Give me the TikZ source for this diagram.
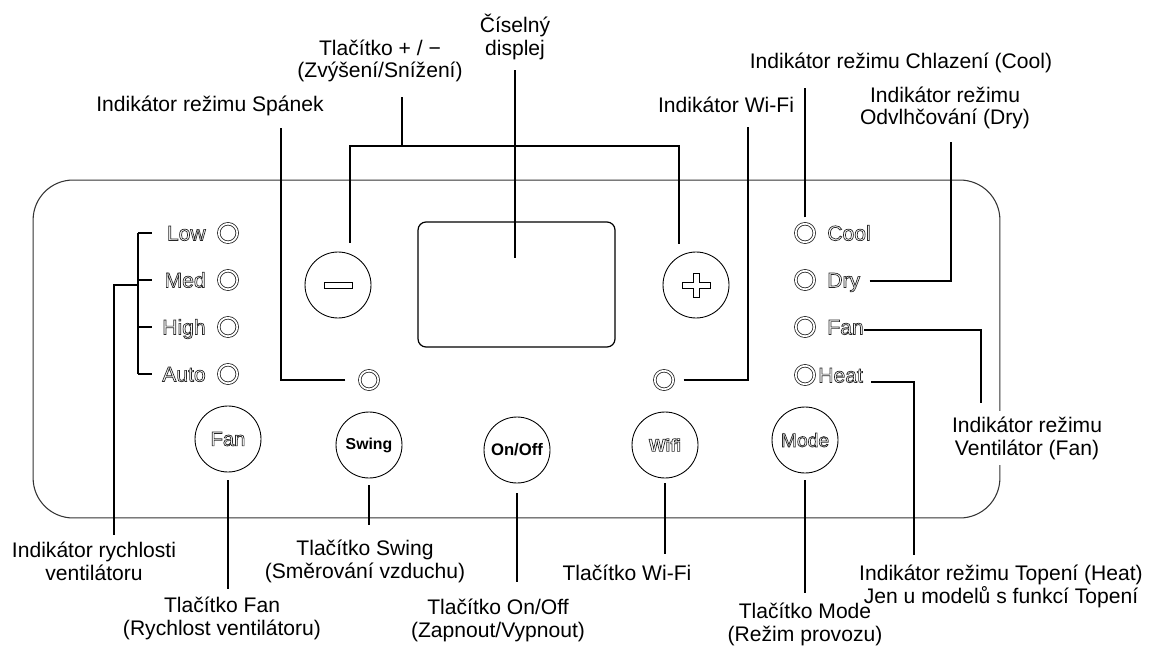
\documentclass[tikz,border=0pt]{standalone}
\usepackage{fontspec}
\setmainfont{Liberation Sans}
\usetikzlibrary{positioning,calc}

\newcommand\hollow[1]{\special{pdf:literal direct 1 Tr 0.4 w}#1\special{pdf:literal direct 0 Tr}}
\newcommand\lblfont{\fontsize{12}{13}\selectfont}

\begin{document}
\begin{tikzpicture}[
    x=0.02cm, y=-0.02cm,
    lbl/.style={align=center, inner sep=1pt, font=\lblfont},
    lead/.style={draw=black, line width=0.8pt},
    panelbox/.style={rectangle, draw=black!80, line width=0.6pt, rounded corners=0.8cm, minimum width=19.34cm, minimum height=6.76cm},
    dispbox/.style={rectangle, draw=black, line width=0.7pt, rounded corners=0.16cm, minimum width=3.94cm, minimum height=2.5cm},
    btn/.style={circle, draw=black, line width=0.5pt, minimum size=1.32cm, inner sep=0pt},
    led/.style={circle, draw=black!85, line width=0.45pt, double, double distance=1pt, minimum size=0.37cm, inner sep=0pt},
    keytxt/.style={inner sep=0pt, text=black!85, font=\fontsize{12}{12}\selectfont}
]
    \useasboundingbox (0,0) rectangle (1151,648);

    % control panel
    \node [panelbox] (panel) at (516.5,349) {};
    \node [dispbox] (disp) at (516.5,284.5) {};
    \node [btn] (btnMinus) at (338,285) {};
    \node [btn] (btnPlus) at (696,285) {};
    \draw [line width=0.5pt] ([shift={(-14,-3)}]btnMinus.center) rectangle ([shift={(14,3)}]btnMinus.center);
    \draw [line width=0.5pt, shift={(btnPlus.center)}] (-3,-12) -- (3,-12) -- (3,-3) -- (14,-3) -- (14,3) -- (3,3)
        -- (3,12) -- (-3,12) -- (-3,3) -- (-14,3) -- (-14,-3) -- (-3,-3) -- cycle;

    % fan speed leds
    \foreach \nm/\yy in {Low/233, Med/280, High/327, Auto/374} {
        \node [led] (led\nm) at (228,\yy) {};
        \node [keytxt, anchor=base east] (txt\nm) at (206,\yy+7.5) {\hollow{\nm}};
        \draw [lead] (138,0 |- led\nm) -- (152,0 |- led\nm);
    }

    % mode leds
    \foreach \nm/\tx/\xx/\yy in {Cool/Cool/827/233, Dry/Dry/827/280, ModeFan/Fan/827/327, Heat/Heat/818/375} {
        \node [led] (led\nm) at (805,\yy) {};
        \node [keytxt, anchor=base west] (txt\nm) at (\xx,\yy+7.5) {\hollow{\tx}};
    }

    \node [led] (ledSleep) at (369,380) {};
    \node [led] (ledWifi) at (664,380) {};

    % buttons
    \node [btn, font=\fontsize{11.5}{12}\selectfont, text=black!85] (btnFan) at (228,439) {\hollow{Fan}};
    \node [btn, font=\bfseries\fontsize{9}{10}\selectfont] (btnSwing) at (369,445) {Swing};
    \node [btn, font=\bfseries\fontsize{9.5}{10}\selectfont] (btnOnOff) at (517,450) {On/Off};
    \node [btn, font=\bfseries\fontsize{10}{10}\selectfont, text=black!85] (btnWifi) at (665,445) {\hollow{Wifi}};
    \node [btn, font=\fontsize{11}{12}\selectfont, text=black!85] (btnMode) at (805,440) {\hollow{Mode}};

    % labels
    \node [lbl] (lblDisp) at (515,37) {Číselný\\displej};
    \node [lbl] (lblPM) at (380,61) {Tlačítko + / −\\(Zvýšení/Snížení)};
    \node [lbl] (lblSleep) at (210,106) {Indikátor režimu Spánek};
    \node [lbl] (lblWifiLed) at (726,105) {Indikátor Wi-Fi};
    \node [lbl] (lblCool) at (901,63) {Indikátor režimu Chlazení (Cool)};
    \node [lbl] (lblDry) at (945,108) {Indikátor režimu\\Odvlhčování (Dry)};
    \node [lbl, fill=white, inner sep=3pt] (lblFanLed) at (1027,438) {Indikátor režimu\\Ventilátor (Fan)};
    \node [lbl] (lblHeat) at (1001,586) {Indikátor režimu Topení (Heat)\\Jen u modelů s funkcí Topení};
    \node [lbl] (lblSpeed) at (94,561) {Indikátor rychlosti\\ventilátoru};
    \node [lbl] (lblFanBtn) at (222,618) {Tlačítko Fan\\(Rychlost ventilátoru)};
    \node [lbl] (lblSwing) at (365,561) {Tlačítko Swing\\(Směrování vzduchu)};
    \node [lbl] (lblOnOff) at (498,620) {Tlačítko On/Off\\(Zapnout/Vypnout)};
    \node [lbl] (lblWifiBtn) at (627,573) {Tlačítko Wi-Fi};
    \node [lbl] (lblMode) at (805,624) {Tlačítko Mode\\(Režim provozu)};

    % leader ends
    \coordinate (dispTop) at (515,70);
    \coordinate (dispTip) at (515,258);
    \coordinate (pmLeft) at (350,243);
    \coordinate (pmRight) at (679,244);
    \coordinate (pmJoin) at (402,146);
    \coordinate (pmTop) at (402,97);
    \coordinate (sleepEnd) at (281,128);
    \coordinate (wifiLedEnd) at (748,127);
    \coordinate (coolEnd) at (805,88);
    \coordinate (dryEnd) at (951,142);
    \coordinate (fanLedEnd) at (981,403);
    \coordinate (heatEnd) at (914,555);
    \coordinate (speedJoin) at (138,285);
    \coordinate (speedEnd) at (114,535);
    \coordinate (fanBtnEnd) at (228,589);
    \coordinate (swingEnd) at (369,525);
    \coordinate (onoffEnd) at (517,582);
    \coordinate (wifiBtnEnd) at (665,554);
    \coordinate (modeEnd) at (805,593);

    % leaders
    \draw [lead] (dispTip) -- (dispTop);
    \draw [lead] (pmLeft) -- (pmLeft |- pmJoin) -- (pmRight |- pmJoin) -- (pmRight);
    \draw [lead] (pmJoin) -- (pmTop);
    \draw [lead] ([xshift=-0.28cm]ledSleep.west) -| (sleepEnd);
    \draw [lead] ([xshift=0.2cm]ledWifi.east) -| (wifiLedEnd);
    \draw [lead] ([yshift=0.12cm]ledCool.north) -- (coolEnd);
    \draw [lead] (txtDry.east |- ledDry) ++(9,1) -| (dryEnd);
    \draw [lead] (txtModeFan.east |- ledModeFan) ++(0,3) -| (fanLedEnd);
    \draw [lead] (txtHeat.east |- ledHeat) ++(8,7) -| (heatEnd);
    \draw [lead] (138,0 |- ledLow) -- (138,0 |- ledAuto);
    \draw [lead] (speedJoin) -| (speedEnd);
    \draw [lead, shorten <=0.16cm] (btnFan.south) -- (fanBtnEnd);
    \draw [lead, shorten <=0.14cm] (btnSwing.south) -- (swingEnd);
    \draw [lead, shorten <=0.2cm] (btnOnOff.south) -- (onoffEnd);
    \draw [lead, shorten <=0.1cm] (btnWifi.south) -- (wifiBtnEnd);
    \draw [lead, shorten <=0.14cm] (btnMode.south) -- (modeEnd);
\end{tikzpicture}
\end{document}
